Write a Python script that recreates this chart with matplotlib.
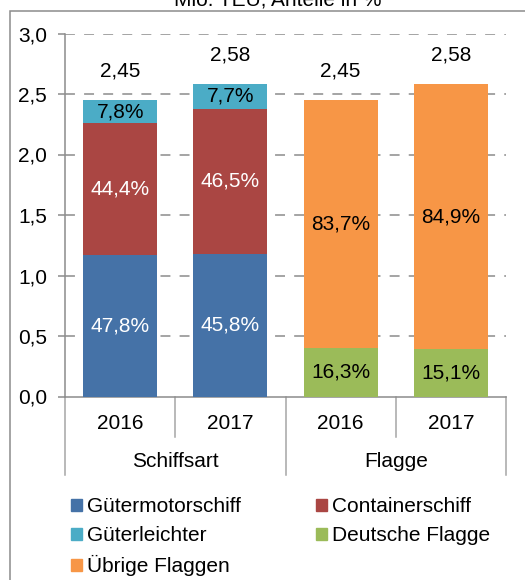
import numpy as np
import matplotlib.pyplot as plt
from matplotlib.patches import Patch, Rectangle

plt.rcParams['font.family'] = ['Liberation Sans', 'DejaVu Sans']
plt.rcParams['font.size'] = 15

# data (Mio. TEU)
years = ['2016', '2017', '2016', '2017']
groups = ['Schiffsart', 'Flagge']
totals = [2.45, 2.58, 2.45, 2.58]
total_labels = ['2,45', '2,58', '2,45', '2,58']

guetermotor = [1.17, 1.18]
container = [1.09, 1.20]
leichter = [0.19, 0.20]
deutsche = [0.40, 0.39]
uebrige = [2.05, 2.19]

guetermotor_lbl = ['47,8%', '45,8%']
container_lbl = ['44,4%', '46,5%']
leichter_lbl = ['7,8%', '7,7%']
deutsche_lbl = ['16,3%', '15,1%']
uebrige_lbl = ['83,7%', '84,9%']

yticks = [0, 0.5, 1.0, 1.5, 2.0, 2.5, 3.0]
ytick_labels = ['0,0', '0,5', '1,0', '1,5', '2,0', '2,5', '3,0']

c_blue = '#4572A7'
c_red = '#AA4643'
c_cyan = '#4BACC6'
c_green = '#9BBB59'
c_orange = '#F79646'
gray = '#8C8C8C'

fig = plt.figure(figsize=(5.25, 5.8), dpi=100)
ax = fig.add_axes([65/525, 1 - 396.5/580, 441/525, 363/580])

w = 0.67
xs = np.array([0, 1])
xf = np.array([2, 3])

b1 = ax.bar(xs, guetermotor, w, color=c_blue, zorder=3)
b2 = ax.bar(xs, container, w, bottom=guetermotor, color=c_red, zorder=3)
b3 = ax.bar(xs, leichter, w, bottom=np.add(guetermotor, container), color=c_cyan, zorder=3)
b4 = ax.bar(xf, deutsche, w, color=c_green, zorder=3)
b5 = ax.bar(xf, uebrige, w, bottom=deutsche, color=c_orange, zorder=3)

def seg_labels(bars, labels, color):
    for r, t in zip(bars, labels):
        ax.text(r.get_x() + r.get_width()/2, r.get_y() + r.get_height()/2, t,
                ha='center', va='center', color=color, zorder=4)

seg_labels(b1, guetermotor_lbl, 'white')
seg_labels(b2, container_lbl, 'white')
seg_labels(b3, leichter_lbl, 'black')
seg_labels(b4, deutsche_lbl, 'black')
seg_labels(b5, uebrige_lbl, 'black')

for i, (t, lbl) in enumerate(zip(totals, total_labels)):
    ax.annotate(lbl, (i, t), xytext=(0, 21), textcoords='offset points',
                ha='center', va='center')

ax.set_xlim(-0.5, 3.5)
ax.set_ylim(0, 3.0)
ax.set_yticks(yticks)
ax.set_yticklabels(ytick_labels)
ax.tick_params(axis='y', length=5, width=1.1, color=gray, pad=8)
ax.set_xticks([])
for y in yticks[1:]:
    ax.axhline(y, color=gray, lw=1.1, dashes=(6.5, 6), zorder=1)

for s in ['top', 'right']:
    ax.spines[s].set_visible(False)
for s in ['left', 'bottom']:
    ax.spines[s].set_color(gray)
    ax.spines[s].set_linewidth(1.1)

# category axis below
tr = ax.get_xaxis_transform()
for xb in [0.5, 2.5]:
    ax.plot([xb, xb], [0, -40/363], color='#A6A6A6', lw=1.1, transform=tr, clip_on=False)
for xb in [-0.5, 1.5, 3.5]:
    ax.plot([xb, xb], [0, -78/363], color='#A6A6A6', lw=1.1, transform=tr, clip_on=False)
for i, y in enumerate(years):
    ax.text(i, -27/363, y, ha='center', va='center', transform=tr)
for i, g in enumerate(groups):
    ax.text(2*i + 0.5, -65/363, g, ha='center', va='center', transform=tr)

# legend, row-wise order as in the source
handles = [Patch(color=c_blue, label='Gütermotorschiff'),
           Patch(color=c_cyan, label='Güterleichter'),
           Patch(color=c_orange, label='Übrige Flaggen'),
           Patch(color=c_red, label='Containerschiff'),
           Patch(color=c_green, label='Deutsche Flagge')]
fig.legend(handles=handles, ncol=2, loc='upper left', bbox_to_anchor=(71/525, 1 - 497/580),
           frameon=False, borderpad=0, handlelength=0.52, handleheight=0.52,
           handletextpad=0.25, columnspacing=3.6, labelspacing=0.49, borderaxespad=0)

fig.text(278/525, 1 - 5/580, 'Mio. TEU, Anteile in %', ha='center', va='baseline')
fig.patches.append(Rectangle((10/525, -0.1), 1.2, 1 - 11/580 + 0.1, transform=fig.transFigure,
                             fill=False, edgecolor=gray, lw=1.1))

fig.savefig('out.png', dpi=100)
